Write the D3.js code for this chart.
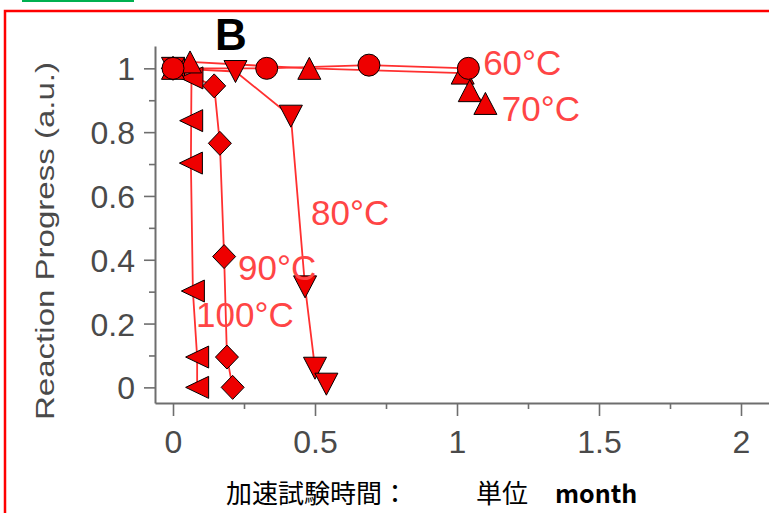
<!DOCTYPE html>
<html>
<head>
<meta charset="utf-8">
<script src="https://cdn.jsdelivr.net/npm/d3@7"></script>
<style>
  html, body { margin: 0; padding: 0; background: #fff; }
  svg { display: block; }
</style>
</head>
<body>
<svg id="chart" width="769" height="513"></svg>
<script>
// ---- data ----
const seriesNames = ["60°C", "70°C", "80°C", "90°C", "100°C"];
const time60  = [0, 0.33, 0.69, 1.04];
const prog60  = [1.0, 1.0, 1.01, 1.0];
const time70  = [0, 0.06, 0.48, 1.02, 1.045, 1.10];
const prog70  = [1.0, 1.02, 1.0, 0.985, 0.93, 0.89];
const time80  = [0, 0.22, 0.415, 0.465, 0.50, 0.54];
const prog80  = [1.0, 0.99, 0.85, 0.315, 0.06, 0.01];
const time90  = [0, 0.145, 0.165, 0.18, 0.19, 0.21];
const prog90  = [1.0, 0.945, 0.765, 0.41, 0.095, 0.0];
const time100 = [0, 0.065, 0.064, 0.063, 0.07, 0.085, 0.085];
const prog100 = [1.0, 0.97, 0.836, 0.703, 0.302, 0.095, 0.0];
const xTicks = [0, 0.5, 1, 1.5, 2];
const xMinorTicks = [0.25, 0.75, 1.25, 1.75];
const yTicks = [0, 0.2, 0.4, 0.6, 0.8, 1];
const yMinorTicks = [0.1, 0.3, 0.5, 0.7, 0.9];
// annotation anchor points (data coordinates) for series labels
const labelTime = [1.092, 1.158, 0.486, 0.229, 0.081];
const labelProg = [0.979, 0.835, 0.509, 0.337, 0.189];
const panelLetter = "B";
const yTitle = "Reaction Progress (a.u.)";
const xTitleParts = ["加速試験時間：", "単位", "month"];

// ---- layout ----
const svg = d3.select("#chart");
const x = d3.scaleLinear().domain([-0.0634, 2.1]).range([155, 769.4]);
const y = d3.scaleLinear().domain([-0.049, 1.07]).range([403, 46]);

// frame decorations
svg.append("rect").attr("x", 5).attr("y", 11).attr("width", 800).attr("height", 600)
  .attr("fill", "none").attr("stroke", "#ff0000").attr("stroke-width", 2.5);
svg.append("rect").attr("x", 23).attr("y", -10).attr("width", 110).attr("height", 11)
  .attr("fill", "none").attr("stroke", "#00b050").attr("stroke-width", 2);

const axisColor = "#6e6e6e";
const tickFont = "'Liberation Sans', Arial, sans-serif";

// y axis
const yAxisG = svg.append("g").attr("transform", `translate(${x.range()[0]},0)`);
yAxisG.call(d3.axisLeft(y).tickValues(yTicks).tickSize(11).tickSizeOuter(0).tickPadding(9)
  .tickFormat(d => String(d)));
yAxisG.append("g").call(d3.axisLeft(y).tickValues(yMinorTicks).tickSize(6).tickSizeOuter(0).tickFormat(""))
  .select(".domain").remove();
// x axis
const xAxisG = svg.append("g").attr("transform", `translate(0,${y.range()[0]})`);
xAxisG.call(d3.axisBottom(x).tickValues(xTicks).tickSize(13).tickSizeOuter(0).tickPadding(10)
  .tickFormat(d => String(d)));
xAxisG.append("g").call(d3.axisBottom(x).tickValues(xMinorTicks).tickSize(6).tickSizeOuter(0).tickFormat(""))
  .select(".domain").remove();

svg.selectAll(".domain").attr("stroke", axisColor).attr("stroke-width", 2);
svg.selectAll(".tick line").attr("stroke", axisColor).attr("stroke-width", 1.6);
svg.selectAll(".tick text").attr("font-family", tickFont).attr("font-size", 32)
  .attr("fill", "#4a4a4a");
xAxisG.selectAll(".tick text").attr("y", 27).attr("dy", "0.71em");
yAxisG.selectAll(".tick text").attr("dy", "0.36em");

// series
const series = [
  { name: seriesNames[0], t: time60,  p: prog60,  shape: "circle" },
  { name: seriesNames[1], t: time70,  p: prog70,  shape: "up" },
  { name: seriesNames[2], t: time80,  p: prog80,  shape: "down" },
  { name: seriesNames[3], t: time90,  p: prog90,  shape: "diamond" },
  { name: seriesNames[4], t: time100, p: prog100, shape: "left" }
].map((s, i) => ({ ...s, pts: s.t.map((tv, j) => [tv, s.p[j]]), lx: labelTime[i], ly: labelProg[i] }));

const lineColor = "#ff3030";
const line = d3.line().x(d => x(d[0])).y(d => y(d[1]));

const lineG = svg.append("g");
series.forEach(s => {
  lineG.append("path").datum(s.pts).attr("d", line)
    .attr("fill", "none").attr("stroke", lineColor).attr("stroke-width", 1.8)
    .attr("stroke-linejoin", "round");
});

const W = 23, H = 22;
function shapePath(shape) {
  switch (shape) {
    case "circle": return d3.symbol(d3.symbolCircle, Math.PI * 11 * 11)();
    case "up": return `M0,${-H/2}L${W/2},${H/2}L${-W/2},${H/2}Z`;
    case "down": return `M0,${H/2}L${W/2},${-H/2}L${-W/2},${-H/2}Z`;
    case "left": return `M${-W/2},0L${W/2},${-H/2}L${W/2},${H/2}Z`;
    case "diamond": return `M0,${-H/2 - 1}L${W/2},0L0,${H/2 + 1}L${-W/2},0Z`;
  }
}

const markG = svg.append("g");
series.slice().reverse().forEach(s => {
  markG.selectAll(null).data(s.pts).enter().append("path")
    .attr("d", shapePath(s.shape))
    .attr("transform", d => `translate(${x(d[0])},${y(d[1])})`)
    .attr("fill", "#ee0000").attr("stroke", "#000").attr("stroke-width", 1);
});

// series labels
svg.append("g").selectAll("text").data(series).enter().append("text")
  .attr("x", d => x(d.lx)).attr("y", d => y(d.ly))
  .attr("font-family", tickFont).attr("font-size", 35)
  .attr("fill", "#ff4545")
  .text(d => d.name);

// panel letter
svg.append("text").attr("x", 215).attr("y", 50)
  .attr("font-family", tickFont).attr("font-size", 44).attr("font-weight", "bold")
  .attr("fill", "#000").text(panelLetter);

// y title
svg.append("text")
  .attr("transform", "translate(54,241) rotate(-90)")
  .attr("text-anchor", "middle")
  .attr("font-family", tickFont).attr("font-size", 26)
  .attr("fill", "#4a4a4a")
  .attr("textLength", 358).attr("lengthAdjust", "spacingAndGlyphs")
  .text(yTitle);

// x title (Japanese)
const jp = "'Noto Sans CJK JP', 'Noto Sans', sans-serif";
const xt = svg.append("g").attr("font-family", jp).attr("font-size", 26).attr("fill", "#000");
xt.append("text").attr("x", 226).attr("y", 503).text(xTitleParts[0]);
xt.append("text").attr("x", 476).attr("y", 503).text(xTitleParts[1]);
xt.append("text").attr("x", 555).attr("y", 503).attr("font-size", 25).attr("font-weight", "bold").text(xTitleParts[2]);
</script>
</body>
</html>
